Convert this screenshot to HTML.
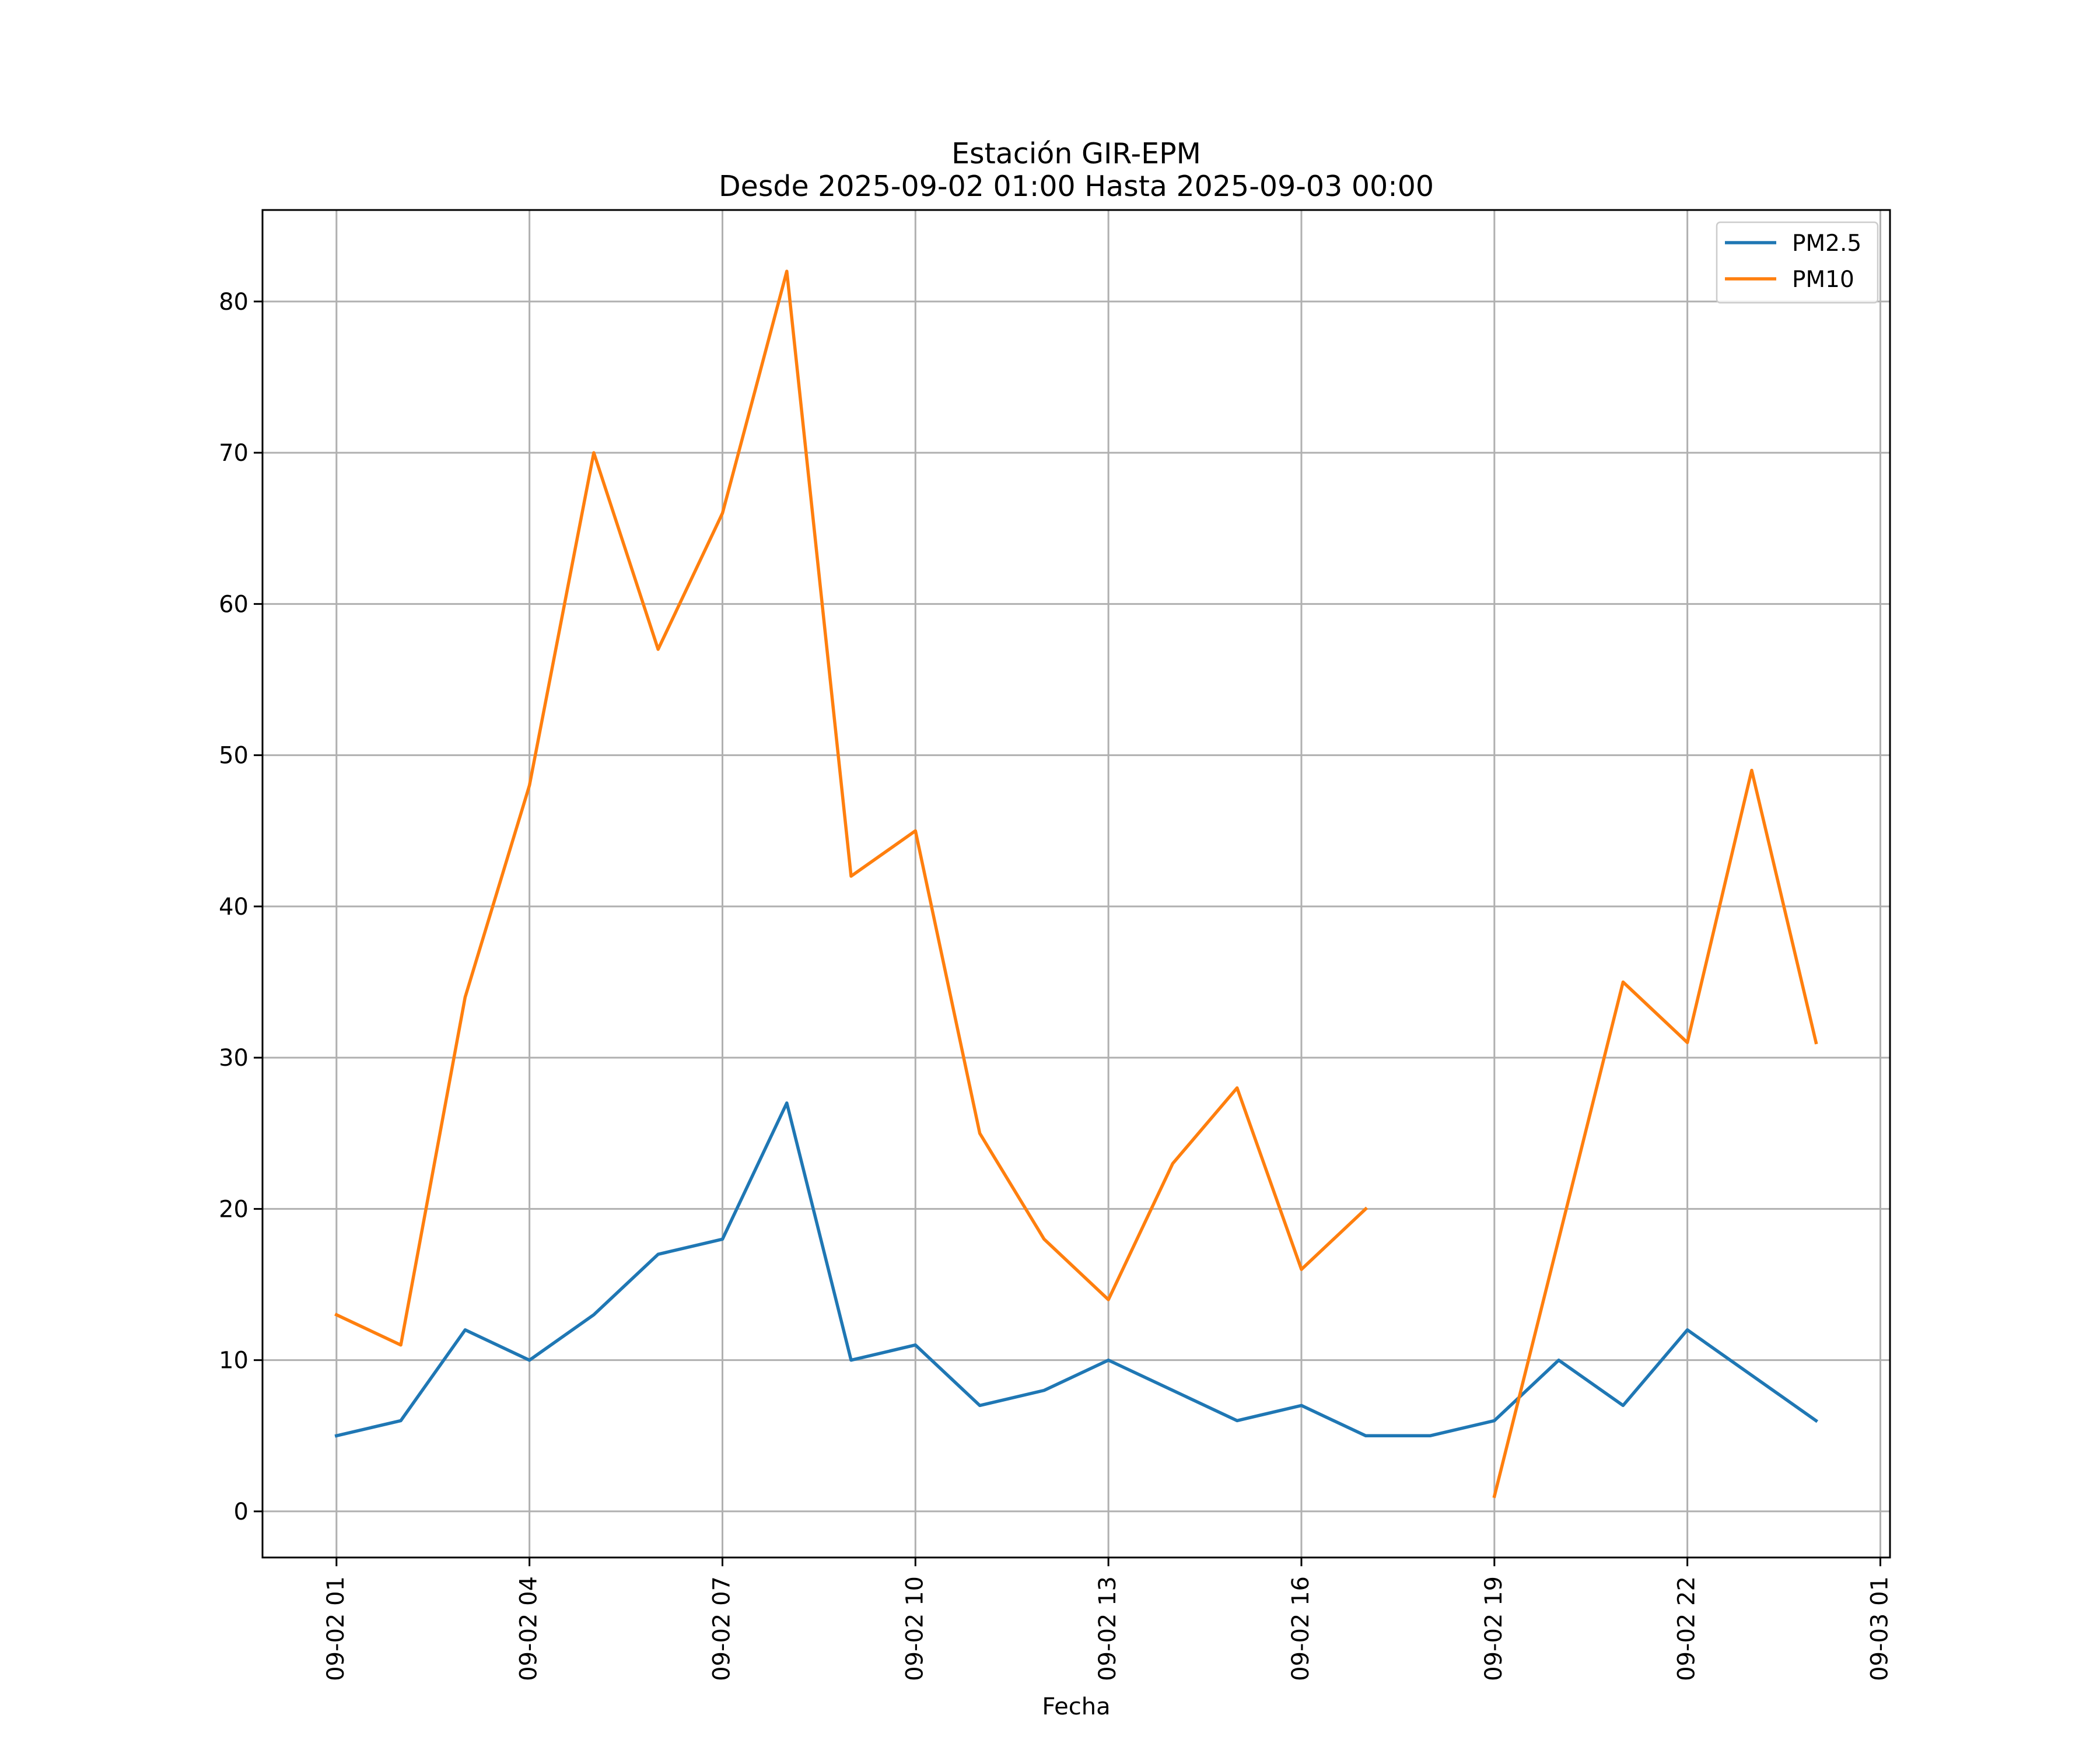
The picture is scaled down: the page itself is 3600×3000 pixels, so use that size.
<!DOCTYPE html>
<html><head><meta charset="utf-8"><style>
html,body{margin:0;padding:0;background:#fff;}
svg{display:block;font-family:"DejaVu Sans","Liberation Sans",sans-serif;}
</style></head><body>
<svg id="chart" width="3600" height="3000" viewBox="0 0 3600 3000" xmlns="http://www.w3.org/2000/svg">
<rect width="3600" height="3000" fill="#fff"/>
<text x="1845" y="280" font-size="49" text-anchor="middle">Estación GIR-EPM</text>
<text x="1845" y="336" font-size="49" text-anchor="middle">Desde 2025-09-02 01:00 Hasta 2025-09-03 00:00</text>
<g id="grid"></g>
<g id="series"></g>
<rect x="450" y="360" width="2790" height="2310" fill="none" stroke="#000" stroke-width="3"/>
<g id="axes"></g>
<text x="1845" y="2939" font-size="40" text-anchor="middle">Fecha</text>
<g>
<rect x="2943" y="381" width="276" height="138" fill="#fff" fill-opacity="0.8" stroke="#ccc" stroke-width="2.5" rx="6"/>
<line x1="2957" y1="416" x2="3045" y2="416" stroke="#1f77b4" stroke-width="5.5"/>
<text x="3072" y="430" font-size="39">PM2.5</text>
<line x1="2957" y1="478" x2="3045" y2="478" stroke="#ff7f0e" stroke-width="5.5"/>
<text x="3072" y="492" font-size="39">PM10</text>
</g>
</svg>
<script>
const hours = [1,2,3,4,5,6,7,8,9,10,11,12,13,14,15,16,17,18,19,20,21,22,23,24];
const pm25 = [5,6,12,10,13,17,18,27,10,11,7,8,10,8,6,7,5,5,6,10,7,12,9,6];
const pm10 = [13,11,34,48,70,57,66,82,42,45,25,18,14,23,28,16,20,null,1,18,35,31,49,31];
const yTicks = [0,10,20,30,40,50,60,70,80];
const xTickHours = [1,4,7,10,13,16,19,22,25];
const xTickLabels = ["09-02 01","09-02 04","09-02 07","09-02 10","09-02 13","09-02 16","09-02 19","09-02 22","09-03 01"];

const L=450,R=3240,T=360,B=2670;
const xMin=1-1.15,xMax=24+1.15,yMin=-3.05,yMax=86.05;
const xs=h=>L+(h-xMin)/(xMax-xMin)*(R-L);
const ys=v=>B-(v-yMin)/(yMax-yMin)*(B-T);
const NS="http://www.w3.org/2000/svg";
function mk(tag,attrs,parent){const e=document.createElementNS(NS,tag);for(const k in attrs)e.setAttribute(k,attrs[k]);parent.appendChild(e);return e;}
const grid=document.getElementById('grid'),axes=document.getElementById('axes'),series=document.getElementById('series');

yTicks.forEach(v=>{
  const y=ys(v);
  const g=mk('line',{x1:L,x2:R,y1:y,y2:y,stroke:'#b0b0b0','stroke-width':3},grid);
  
  
  const t=mk('line',{x1:L-15,x2:L,y1:y,y2:y,stroke:'#000','stroke-width':3},axes);
  
  
  const lb=mk('text',{x:L-24,y:y+14,'font-size':40,'text-anchor':'end'},axes);
  lb.textContent=v;
  
  
});
xTickHours.forEach((h,i)=>{
  const x=xs(h);
  const g=mk('line',{x1:x,x2:x,y1:T,y2:B,stroke:'#b0b0b0','stroke-width':3},grid);
  
  
  const t=mk('line',{x1:x,x2:x,y1:B,y2:B+15,stroke:'#000','stroke-width':3},axes);
  
  
  const lb=mk('text',{x:0,y:0,'font-size':40,'text-anchor':'end',transform:`translate(${x+12},${B+32}) rotate(-90)`},axes);
  lb.textContent=xTickLabels[i];
  
  
});
function drawSeries(vals,color,name){
  let d='',pen=false;
  vals.forEach((v,i)=>{
    if(v===null){pen=false;return;}
    d+=(pen?'L':'M')+xs(hours[i]).toFixed(1)+' '+ys(v).toFixed(1)+' ';
    pen=true;
  });
  const p=mk('path',{d:d,fill:'none',stroke:color,'stroke-width':5.5,'stroke-linejoin':'round','stroke-linecap':'square'},series);
  
  
}
drawSeries(pm25,'#1f77b4','pm25-line');
drawSeries(pm10,'#ff7f0e','pm10-line');
</script>
</body></html>
